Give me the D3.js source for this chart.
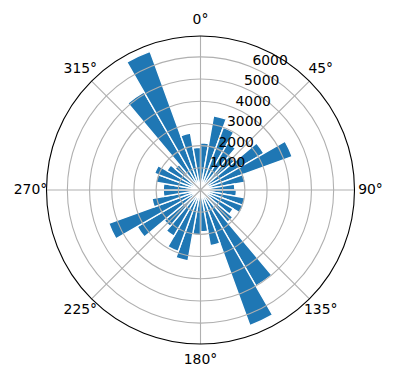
<!DOCTYPE html>
<html>
<head>
<meta charset="utf-8">
<script src="https://cdn.jsdelivr.net/npm/d3@7"></script>
<style>
  body { margin: 0; background: #fff; }
  svg { display: block; font-family: "DejaVu Sans", sans-serif; }
</style>
</head>
<body>
<svg width="396" height="380"></svg>
<script>
// bin start angles (degrees, clockwise from north) and counts per bin
const binStart = [0, 10, 20, 30, 40, 50, 60, 70, 80, 90, 100, 110,
                  120, 130, 140, 150, 160, 170, 180, 190, 200, 210, 220, 230,
                  240, 250, 260, 270, 280, 290, 300, 310, 320, 330, 340, 350];
const counts = [2130, 3400, 3000, 2450, 2000, 3300, 4400, 2050, 1550, 1620, 2030, 2050,
                1700, 1900, 5000, 6500, 2550, 1880, 2030, 3250, 2950, 2400, 2140, 3300,
                4400, 2220, 1680, 1680, 2040, 2200, 1750, 1500, 5100, 6650, 2600, 1920];
const binWidth = 10;
const rTicks = [1000, 2000, 3000, 4000, 5000, 6000];
const thetaTicks = [0, 45, 90, 135, 180, 225, 270, 315];
const rMax = 6940;

const svg = d3.select("svg"),
      cx = 200.5, cy = 190, R = 154;

const rad = d => d * Math.PI / 180;
const r = d3.scaleLinear().domain([0, rMax]).range([0, R]);

const g = svg.append("g").attr("transform", "translate(" + cx + "," + cy + ")");

const arc = d3.arc().innerRadius(0);

g.selectAll("path.bar")
  .data(counts)
  .enter()
  .append("path")
  .attr("class", "bar")
  .attr("d", function(d, i) {
    return arc({ outerRadius: r(d), startAngle: rad(binStart[i]), endAngle: rad(binStart[i] + binWidth) });
  })
  .attr("fill", "#1f77b4")
  .attr("stroke", "#fff")
  .attr("stroke-width", 1.4)
  .attr("stroke-linejoin", "miter");

// grid (matplotlib draws it above the bars)
g.selectAll("circle.grid")
  .data(rTicks)
  .enter()
  .append("circle")
  .attr("r", d => r(d))
  .attr("fill", "none")
  .attr("stroke", "#b0b0b0")
  .attr("stroke-width", 1.1);

g.selectAll("line.grid")
  .data(thetaTicks)
  .enter()
  .append("line")
  .attr("x1", 0).attr("y1", 0)
  .attr("x2", d => R * Math.sin(rad(d)))
  .attr("y2", d => -R * Math.cos(rad(d)))
  .attr("stroke", "#b0b0b0")
  .attr("stroke-width", 1.1);

g.append("circle")
  .attr("r", R)
  .attr("fill", "none")
  .attr("stroke", "#000")
  .attr("stroke-width", 1.1);

// angle labels
g.selectAll("text.theta")
  .data(thetaTicks)
  .enter()
  .append("text")
  .attr("x", d => 170 * Math.sin(rad(d)))
  .attr("y", d => -170 * Math.cos(rad(d)) - 1.5)
  .attr("text-anchor", "middle")
  .attr("dominant-baseline", "central")
  .attr("font-size", "13.9px")
  .text(d => d + "°");

// radial labels at 22.5 deg
g.selectAll("text.rlab")
  .data(rTicks)
  .enter()
  .append("text")
  .attr("x", d => r(d) * Math.sin(rad(22.5)) + 1)
  .attr("y", d => -r(d) * Math.cos(rad(22.5)) - 2.5)
  .attr("font-size", "13.9px")
  .text(d => d);
</script>
</body>
</html>
